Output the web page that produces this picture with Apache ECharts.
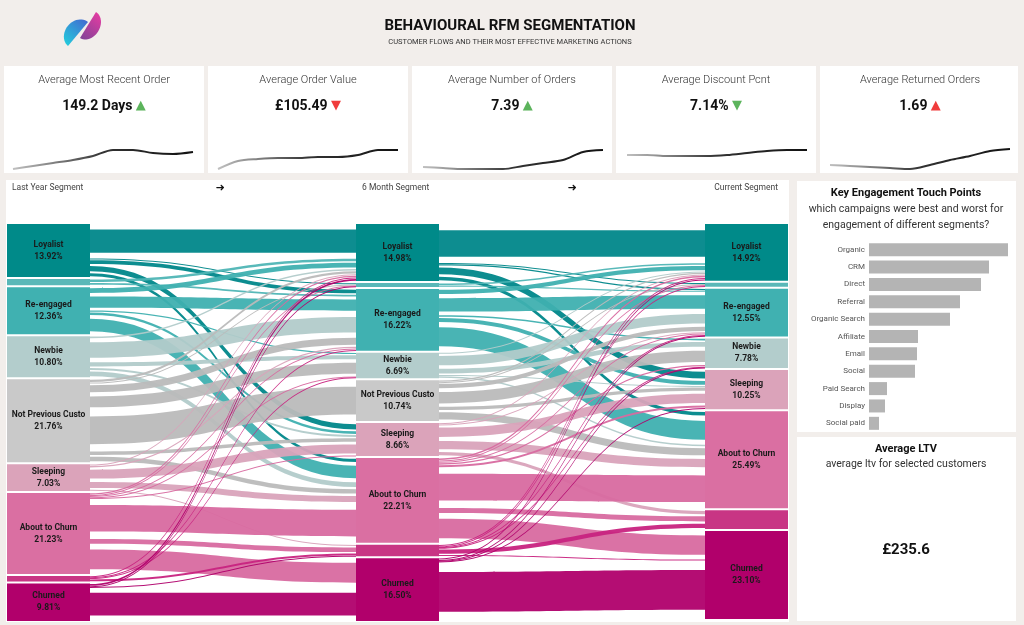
<!DOCTYPE html>
<html>
<head>
<meta charset="utf-8">
<script src="https://cdn.jsdelivr.net/npm/echarts@6/dist/echarts.min.js"></script>
<style>
html,body{margin:0;padding:0;background:#f2eeeb;}
#main{width:1024px;height:625px;}
</style>
</head>
<body>
<div id="main"></div>
<script>
var myChart = echarts.init(document.getElementById('main'));

// segments (Rising / Lapsing are the small unlabeled strips)
var segments = ['Loyalist', 'Rising', 'Re-engaged', 'Newbie', 'Not Previous Customer', 'Sleeping', 'About to Churn', 'Lapsing', 'Churned'];
var segmentColors = ['#008a89', '#5ab8b8', '#40b1b1', '#b3cdcc', '#c9c9c9', '#dba3ba', '#da6fa2', '#c83584', '#b1006b'];
var flowColors = ['#00878a', '#4fb5b5', '#3fb0b0', '#b2cbca', '#bababa', '#d9a3ba', '#d86aa0', '#c8237f', '#b0006b'];
var hiddenSegments = ['Rising', 'Lapsing'];

var lastYearShare = [13.92, 1.6, 12.36, 10.80, 21.76, 7.03, 21.23, 1.49, 9.81];
var sixMonthShare = [14.98, 1.0, 16.22, 6.69, 10.74, 8.66, 22.21, 3.0, 16.50];
var currentShare  = [14.92, 1.0, 12.55, 7.78, 0, 10.25, 25.49, 4.91, 23.10];

// rows = from segment, cols = to segment (same order as segments)
var flowsLastYearTo6m = [
  [9.0, 0.3, 1.4, 0, 0, 2.0, 1.22, 0, 0],
  [0.9, 0, 0.7, 0, 0, 0, 0, 0, 0],
  [1.8, 0, 4.3, 0.4, 0, 1.0, 4.86, 0, 0],
  [0.6, 0, 6.0, 1.6, 0, 0.8, 1.8, 0, 0],
  [0.8, 0.3, 2.7, 4.2, 10.74, 1.3, 1.72, 0, 0],
  [0.4, 0, 0.5, 0, 0, 3.4, 2.3, 0.43, 0],
  [0.5, 0.2, 0.4, 0.2, 0, 0.16, 10.31, 1.8, 7.66],
  [0.3, 0, 0.22, 0.29, 0, 0, 0, 0.68, 0],
  [0.68, 0.2, 0, 0, 0, 0, 0, 0.09, 8.84]
];
var flows6mToCurrent = [
  [10.2, 0.3, 0.5, 0, 0, 2.6, 1.38, 0, 0],
  [0.6, 0, 0.4, 0, 0, 0, 0, 0, 0],
  [1.6, 0, 5.2, 0.6, 0, 1.5, 7.32, 0, 0],
  [0.3, 0, 3.6, 1.9, 0, 0.3, 0.59, 0, 0],
  [0.5, 0.2, 1.7, 4.4, 0, 1.2, 2.74, 0, 0],
  [0.3, 0, 0.3, 0, 0, 3.6, 3.2, 1.26, 0],
  [0.6, 0.3, 0.4, 0.5, 0, 0.7, 10.26, 2.0, 7.45],
  [0.4, 0.2, 0.2, 0.2, 0, 0, 0, 1.65, 0.35],
  [0.42, 0, 0.25, 0.18, 0, 0.35, 0, 0, 15.3]
];

// KPI cards
var kpiTitles = ['Average Most Recent Order', 'Average Order Value', 'Average Number of Orders', 'Average Discount Pcnt', 'Average Returned Orders'];
var kpiValues = ['149.2 Days', '£105.49', '7.39', '7.14%', '1.69'];
var kpiArrows = ['▲', '▼', '▲', '▼', '▲'];
var kpiArrowColors = ['#5cb45c', '#f03c3c', '#5cb45c', '#5cb45c', '#f03c3c'];
var kpiTrends = [
  [0, 3, 6, 9, 13, 19, 19, 16, 15, 17],
  [0, 8, 10, 11, 11, 12, 12, 14, 19, 19],
  [2, 1, 0, 0, 0, 3, 6, 9, 17, 19],
  [14, 14, 13, 13, 13, 14, 16, 18, 19, 19],
  [4, 3, 2, 1, 0, 4, 9, 13, 18, 20]
];

// touch points
var touchPoints = ['Organic', 'CRM', 'Direct', 'Referral', 'Organic Search', 'Affiliate', 'Email', 'Social', 'Paid Search', 'Display', 'Social paid'];
var touchPointScores = [139, 120, 112, 91, 81, 49, 48, 46, 18, 16, 10];

var avgLtv = '£235.6';

// ---- build sankey data
var stages = [['ly', lastYearShare], ['sm', sixMonthShare], ['cur', currentShare]];
var nodes = [];
stages.forEach(function (st, depth) {
  segments.forEach(function (seg, i) {
    if (!st[1][i]) return;
    nodes.push({
      name: st[0] + '|' + seg,
      value: st[1][i],
      share: st[1][i],
      depth: depth,
      itemStyle: { color: segmentColors[i] },
      label: { show: hiddenSegments.indexOf(seg) < 0 }
    });
  });
});
// each flow gets an invisible spacer before and after it, so bands are separated by white
var links = [];
var BAND = 0.68, PAD = (1 - BAND) / 2;
function addLinks(matrix, from, to) {
  matrix.forEach(function (row, i) {
    row.forEach(function (v, j) {
      if (!(v > 0)) return;
      var s = from + '|' + segments[i], t = to + '|' + segments[j];
      links.push({ source: s, target: t, value: v * PAD, lineStyle: { opacity: 0 } });
      links.push({ source: s, target: t, value: v * BAND, lineStyle: { color: flowColors[i], opacity: 0.95 } });
      links.push({ source: s, target: t, value: v * PAD, lineStyle: { opacity: 0 } });
    });
  });
}
addLinks(flowsLastYearTo6m, 'ly', 'sm');
addLinks(flows6mToCurrent, 'sm', 'cur');

// ---- graphics
var FONT = 'Roboto';
var cardX = [4, 208, 412, 616, 820];
var graphics = [];
cardX.forEach(function (x, i) {
  graphics.push({ type: 'rect', x: x, y: 66, shape: { width: i == 4 ? 198 : 200, height: 107 }, style: { fill: '#fff' }, silent: true });
});
graphics.push({ type: 'rect', x: 6, y: 180, shape: { width: 783, height: 442 }, style: { fill: '#fff' }, silent: true });
graphics.push({ type: 'rect', x: 797, y: 181, shape: { width: 219, height: 251 }, style: { fill: '#fff' }, silent: true });
graphics.push({ type: 'rect', x: 797, y: 437, shape: { width: 219, height: 184 }, style: { fill: '#fff' }, silent: true });

// logo: two half discs facing each other
function halfDisc(ax, ay, bx, by, bulge, side) {
  var mx = (ax + bx) / 2, my = (ay + by) / 2;
  var dx = (bx - ax) / 2, dy = (by - ay) / 2;
  var len = Math.sqrt(dx * dx + dy * dy);
  var nx = -dy / len * side, ny = dx / len * side;
  var pts = [];
  for (var k = 0; k <= 24; k++) {
    var a = Math.PI * k / 24;
    pts.push([mx - dx * Math.cos(a) + nx * bulge * Math.sin(a), my - dy * Math.cos(a) + ny * bulge * Math.sin(a)]);
  }
  return pts;
}
graphics.push({ type: 'polygon', silent: true,
  shape: { points: halfDisc(68, 46, 88, 22, 13, -1) },
  style: { fill: { type: 'linear', x: 1, y: 0, x2: 0, y2: 1, colorStops: [{ offset: 0, color: '#3b5fcf' }, { offset: 1, color: '#16d0dc' }] }, opacity: 0.95 } });
graphics.push({ type: 'polygon', silent: true,
  shape: { points: halfDisc(80, 38, 96, 12, 12, 1) },
  style: { fill: { type: 'linear', x: 1, y: 0, x2: 0, y2: 1, colorStops: [{ offset: 0, color: '#ea1c96' }, { offset: 1, color: '#6a2488' }] }, opacity: 0.85 } });

function txt(x, y, text, opt) {
  graphics.push({
    type: 'text', x: x, y: y, silent: true,
    style: Object.assign({ text: text, fill: '#222', fontFamily: FONT, fontSize: 11, textAlign: 'center', textVerticalAlign: 'middle' }, opt || {})
  });
}
txt(510, 26, 'BEHAVIOURAL RFM SEGMENTATION', { fontSize: 15, fontWeight: 'bold', fill: '#111' });
txt(510, 42, 'CUSTOMER FLOWS AND THEIR MOST EFFECTIVE MARKETING ACTIONS', { fontSize: 7.5, fill: '#333' });

kpiTitles.forEach(function (t, i) {
  var cx = cardX[i] + 100;
  txt(cx, 80, t, { fontSize: 11, fontWeight: 300, fill: '#333' });
  graphics.push({
    type: 'text', x: cx, y: 106, silent: true,
    style: {
      text: '{v|' + kpiValues[i] + '} {a|' + kpiArrows[i] + '}',
      textAlign: 'center', textVerticalAlign: 'middle',
      rich: {
        v: { fontFamily: FONT, fontSize: 14, fontWeight: 'bold', fill: '#111' },
        a: { fontFamily: 'DejaVu Sans', fontSize: 13, fill: kpiArrowColors[i] }
      }
    }
  });
});

txt(12, 188, 'Last Year Segment', { fontSize: 8.5, fill: '#444', textAlign: 'left' });
txt(220, 188, '➜', { fontSize: 11, fill: '#111', fontFamily: 'DejaVu Sans' });
txt(362, 188, '6 Month Segment', { fontSize: 8.5, fill: '#444', textAlign: 'left' });
txt(572, 188, '➜', { fontSize: 11, fill: '#111', fontFamily: 'DejaVu Sans' });
txt(778, 188, 'Current Segment', { fontSize: 8.5, fill: '#444', textAlign: 'right' });

txt(906, 193, 'Key Engagement Touch Points', { fontSize: 11, fontWeight: 'bold', fill: '#111' });
txt(906, 209, 'which campaigns were best and worst for', { fontSize: 10.5, fill: '#333' });
txt(906, 225, 'engagement of different segments?', { fontSize: 10.5, fill: '#333' });

txt(906, 449, 'Average LTV', { fontSize: 11, fontWeight: 'bold', fill: '#111' });
txt(906, 464, 'average ltv for selected customers', { fontSize: 10.5, fill: '#333' });
txt(906, 550, avgLtv, { fontSize: 15, fontWeight: 'bold', fill: '#111' });

// ---- sparklines
var sparkLeft = [13, 218, 423, 627, 830];
var grids = [], xAxes = [], yAxes = [], series = [];
kpiTrends.forEach(function (d, i) {
  grids.push({ left: sparkLeft[i], top: 149, width: 180, height: 20 });
  xAxes.push({ type: 'category', gridIndex: i, show: false, boundaryGap: false, data: d.map(function (_, k) { return k; }) });
  yAxes.push({ type: 'value', gridIndex: i, show: false, min: 0, max: 20 });
  series.push({
    type: 'line', xAxisIndex: i, yAxisIndex: i, data: d, smooth: 0.3, symbol: 'none', silent: true,
    lineStyle: { width: 2, color: { type: 'linear', x: 0, y: 0, x2: 1, y2: 0, colorStops: [{ offset: 0, color: '#c4c4c4' }, { offset: 0.5, color: '#333' }, { offset: 1, color: '#111' }] } }
  });
});

// ---- touch point bars
grids.push({ left: 869, top: 241, width: 139, height: 191 });
xAxes.push({ type: 'value', gridIndex: 5, show: false, min: 0, max: 'dataMax' });
yAxes.push({
  type: 'category', gridIndex: 5, data: touchPoints, inverse: true,
  axisLine: { show: false }, axisTick: { show: false }, splitLine: { show: false },
  axisLabel: { color: '#555', fontSize: 8, fontFamily: FONT, margin: 4 }
});
series.push({ type: 'bar', xAxisIndex: 5, yAxisIndex: 5, data: touchPointScores, barWidth: 13, silent: true, itemStyle: { color: '#b4b4b4' } });

// ---- sankey
series.push({
  type: 'sankey',
  left: 7, top: 224, right: 236, bottom: 4,
  nodeWidth: 83, nodeGap: 2,
  layoutIterations: 0,
  draggable: false,
  emphasis: { disabled: true },
  data: nodes,
  links: links,
  label: {
    position: 'inside',
    color: '#1a1a1a', fontFamily: FONT, fontSize: 8.5, fontWeight: 'bold', lineHeight: 12,
    width: 82, overflow: 'truncate', ellipsis: '',
    formatter: function (p) { return p.name.split('|')[1] + '\n' + p.data.share.toFixed(2) + '%'; }
  },
  itemStyle: { borderWidth: 0 },
  lineStyle: { curveness: 0.5 }
});

var option = {
  backgroundColor: '#f2eeeb',
  animation: false,
  graphic: graphics,
  grid: grids,
  xAxis: xAxes,
  yAxis: yAxes,
  series: series
};

myChart.setOption(option);
</script>
</body>
</html>
